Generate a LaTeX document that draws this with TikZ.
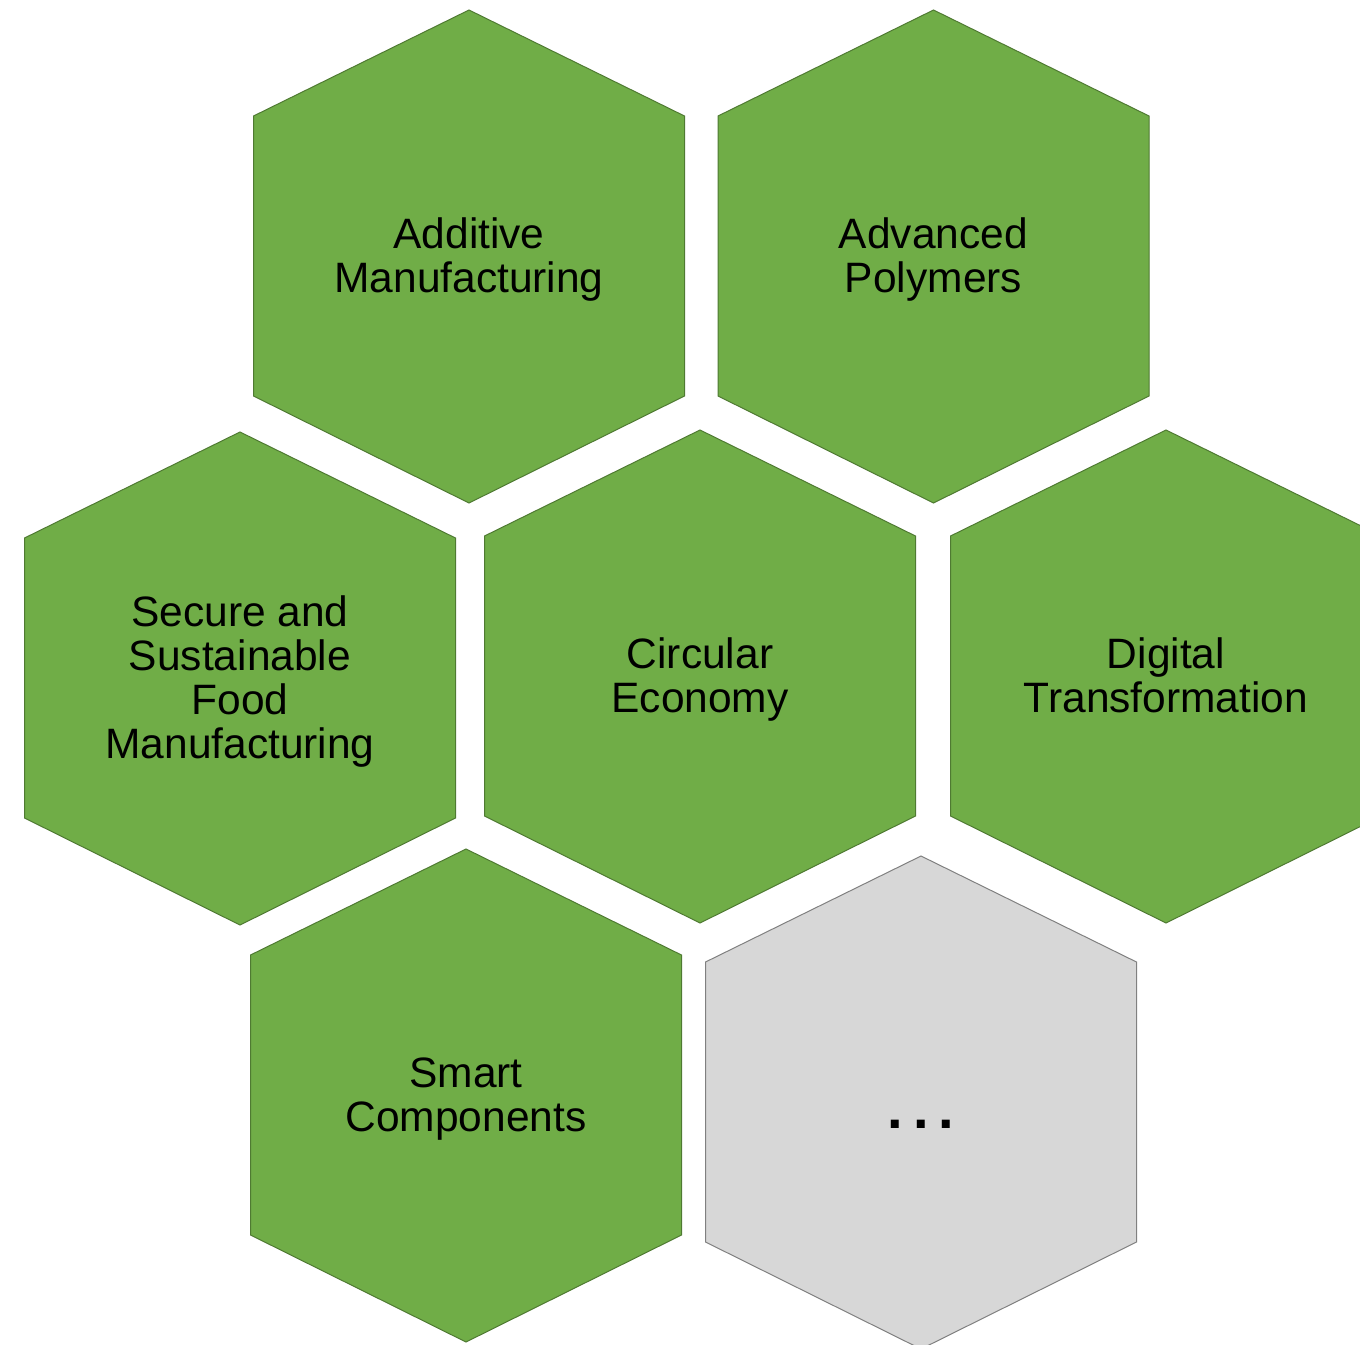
\documentclass[tikz,border=0pt]{standalone}
\usepackage{fontspec}
\setmainfont{Liberation Sans}
\definecolor{hexgreen}{HTML}{70AD47}
\definecolor{hexgreenline}{HTML}{4F7A32}
\definecolor{hexgray}{HTML}{D7D7D7}
\definecolor{hexgrayline}{HTML}{808080}
\tikzset{
  greenhex/.style={fill=hexgreen, draw=hexgreenline, line width=1pt, line join=miter},
  grayhex/.style={fill=hexgray, draw=hexgrayline, line width=1pt, line join=miter},
  hexlabel/.style={align=center, text=black, inner sep=0pt, font=\fontsize{42.5}{44}\selectfont}
}
\newcommand{\hexpath}[3]{%
  \path[#3] (#1,#2) -- ++(215.5,106) -- ++(0,280) -- ++(-215.5,107) -- ++(-215.5,-107) -- ++(0,-280) -- cycle;}
\begin{document}
\begin{tikzpicture}[x=1pt,y=-1pt]
\useasboundingbox (0,0) rectangle (1360,1344);
\clip (0,0) rectangle (1360,1344);
\fill[white] (0,0) rectangle (1360,1344);
\hexpath{469}{10}{greenhex}
\hexpath{933.5}{10}{greenhex}
\hexpath{240}{432}{greenhex}
\hexpath{700}{430}{greenhex}
\hexpath{1166}{430}{greenhex}
\hexpath{466}{849}{greenhex}
\hexpath{921}{856}{grayhex}
\node[hexlabel] (am) at (469,262) {\strut Additive\\Manufacturing\strut};
\node[hexlabel] (ap) at (933.5,262) {\strut Advanced\\Polymers\strut};
\node[hexlabel] (sf) at (240,684) {\strut Secure and\\Sustainable\\Food\\Manufacturing\strut};
\node[hexlabel] (ce) at (700,682) {\strut Circular\\Economy\strut};
\node[hexlabel] (dt) at (1166,682) {\strut Digital\\Transformation\strut};
\node[hexlabel] (sc) at (466,1101) {\strut Smart\\Components\strut};
\node[hexlabel, anchor=base] (more) at (921,1128) {\fontsize{56}{60}\selectfont\bfseries .\kern 10pt.\kern 10pt.};
\end{tikzpicture}
\end{document}
